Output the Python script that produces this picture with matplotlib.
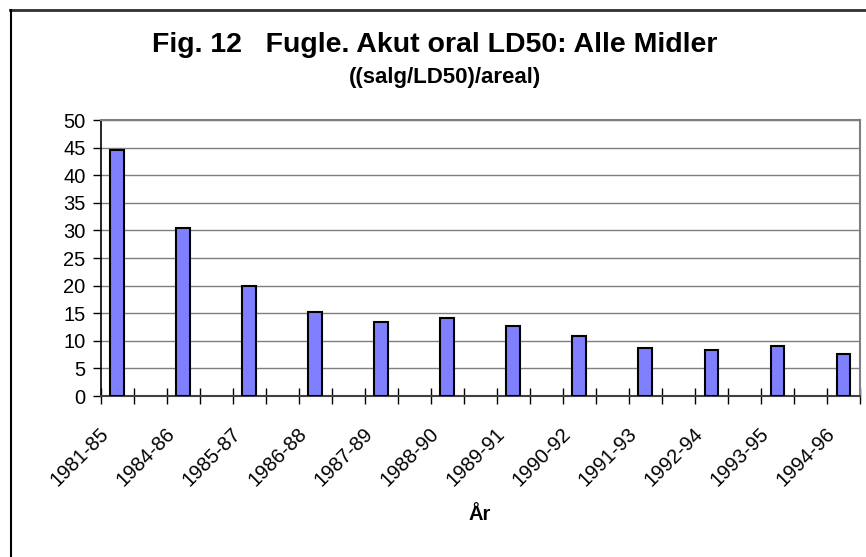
import numpy as np
import matplotlib.pyplot as plt
from matplotlib.lines import Line2D
from matplotlib.transforms import ScaledTranslation

plt.rcParams['font.family'] = ['Liberation Sans', 'DejaVu Sans']

# perioder og verdier (hver anden kategori er tom)
perioder = ['1981-85', '1984-86', '1985-87', '1986-88', '1987-89', '1988-90',
            '1989-91', '1990-92', '1991-93', '1992-94', '1993-95', '1994-96']
verdier = [44.6, 30.5, 20.0, 15.2, 13.4, 14.1, 12.7, 10.9, 8.7, 8.3, 9.1, 7.6]
yticks = [0, 5, 10, 15, 20, 25, 30, 35, 40, 45, 50]

pos = np.arange(len(perioder)) * 2  # 23 kategorier, soejler paa lige pladser

fig = plt.figure(figsize=(8.66, 5.57), dpi=100)
ax = fig.add_axes([100.7/866, 1-396/557, (860-100.7)/866, (396-120)/557])

ax.bar(pos, verdier, width=0.42, color='#8080FF', edgecolor='black', linewidth=1.5, zorder=3)

ax.set_xlim(-0.5, 22.5)
ax.set_ylim(0, 50)
ax.set_yticks(yticks)
ax.yaxis.grid(True, color='#7f7f7f', linewidth=1.0, zorder=0)
ax.tick_params(axis='y', direction='out', length=6, width=1, labelsize=14.5, pad=5)

ax.set_xticks(pos)
ax.set_xticklabels(perioder, rotation=45, ha='right', va='top', rotation_mode='anchor', fontsize=14.5)
ax.set_xticks(np.arange(-0.5, 23, 1), minor=True)
ax.tick_params(axis='x', which='major', length=0, pad=20)
ax.tick_params(axis='x', which='minor', direction='inout', length=11, width=1)
off = ScaledTranslation(-18/100, 0, fig.dpi_scale_trans)
for lab in ax.get_xticklabels():
    lab.set_transform(lab.get_transform() + off)

for s in ['top', 'right']:
    ax.spines[s].set_color('#7f7f7f')
    ax.spines[s].set_linewidth(1.5)
ax.spines['left'].set_linewidth(1.2)
ax.spines['bottom'].set_color('#404040')
ax.spines['bottom'].set_linewidth(1.5)

fig.text(435/866, 1-45/557, 'Fig. 12   Fugle. Akut oral LD50: Alle Midler', ha='center', va='center',
         fontsize=20.5, fontweight='bold')
fig.text(445/866, 1-77/557, '((salg/LD50)/areal)', ha='center', va='center', fontsize=16, fontweight='bold')
fig.text(480/866, 1-515/557, 'År', ha='center', va='center', fontsize=14.5, fontweight='bold')

# ramme
fig.add_artist(Line2D([10/866, 1], [1-10/557, 1-10/557], color='#303030', linewidth=2))
fig.add_artist(Line2D([11/866, 11/866], [0, 1-10/557], color='black', linewidth=1.5))

fig.savefig('out.png', dpi=100)
